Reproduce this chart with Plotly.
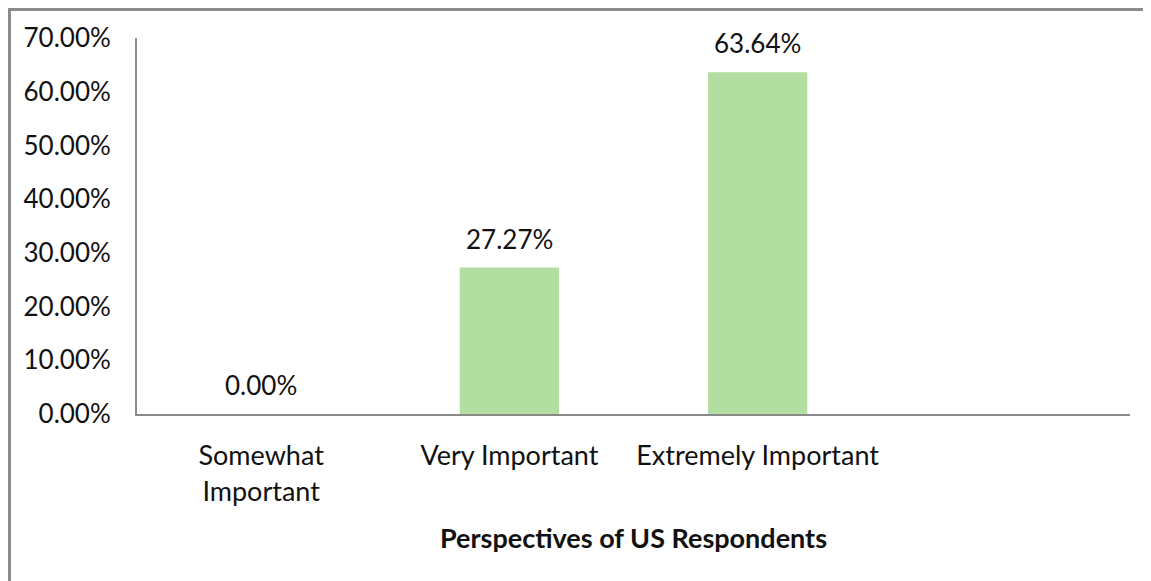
import plotly.graph_objects as go

categories = ["Somewhat<br>Important", "Very Important", "Extremely Important", " "]
values = [0.0, 0.2727, 0.6364, None]
label_values = [0.0, 0.2727, 0.6364]
y_ticks = [0, 0.1, 0.2, 0.3, 0.4, 0.5, 0.6, 0.7]

FONT = "Lato"
TXT = "#111111"
fig = go.Figure()
fig.add_trace(go.Bar(
    x=categories, y=values,
    marker=dict(color="#B3DEA1", line=dict(width=0)),
    width=0.4,
    hoverinfo="skip",
))

for cat, v in zip(categories, label_values):
    fig.add_annotation(
        x=cat, y=v, xref="x", yref="y",
        text=f"{v*100:.2f}%", showarrow=False,
        yanchor="bottom", yshift=11,
        font=dict(family=FONT, size=26, color=TXT),
    )

fig.update_layout(
    width=1151, height=581,
    margin=dict(l=129, r=29, t=30, b=175, autoexpand=False),
    paper_bgcolor="white", plot_bgcolor="white",
    showlegend=False,
    font=dict(family=FONT, size=26, color=TXT),
    bargap=0.6,
)
fig.update_xaxes(
    showline=True, linecolor="#898989", linewidth=2,
    showgrid=False, ticks="", ticklabelstandoff=17,
    tickfont=dict(family=FONT, size=27, color=TXT),
    title=dict(text="<b>Perspectives of US Respondents</b>",
               font=dict(family=FONT, size=27, color=TXT), standoff=24),
    fixedrange=True,
)
fig.update_yaxes(
    range=[0, 0.70], tickvals=y_ticks, tickformat=".2%",
    showline=True, linecolor="#898989", linewidth=2,
    showgrid=False, zeroline=False, ticks="", ticklabelstandoff=19,
    tickfont=dict(family=FONT, size=26, color=TXT),
    fixedrange=True,
)
# outer chart border (top and left edges visible in the crop)
fig.add_shape(type="line", xref="paper", yref="paper",
              x0=-129/993, x1=1.05, y0=1 + 28.5/376, y1=1 + 28.5/376,
              line=dict(color="#8C8C8C", width=3))
fig.add_shape(type="line", xref="paper", yref="paper",
              x0=-127.5/993, x1=-127.5/993, y0=-0.5, y1=1 + 28.5/376,
              line=dict(color="#8C8C8C", width=3))

fig.write_html("out.html")
